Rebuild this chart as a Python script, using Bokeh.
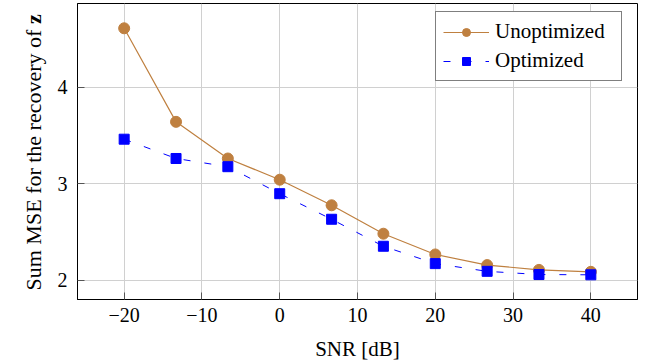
import math
from bokeh.plotting import figure
from bokeh.layouts import row
from bokeh.models import Range1d, FixedTicker
from bokeh.core.properties import value
from bokeh.embed import file_html
from bokeh.resources import INLINE

# ---- data ----
snr = [-20, -13.33, -6.67, 0, 6.67, 13.33, 20, 26.67, 33.33, 40]
unoptimized = [4.61, 3.64, 3.26, 3.04, 2.775, 2.48, 2.265, 2.155, 2.105, 2.085]
optimized = [3.46, 3.26, 3.175, 2.895, 2.63, 2.35, 2.17, 2.09, 2.057, 2.054]
x_ticks = [-20, -10, 0, 10, 20, 30, 40]
y_ticks = [2, 3, 4]
x_tick_labels = {-20: "\u221220", -10: "\u221210"}
series_names = ["Unoptimized", "Optimized"]
x_label = "SNR [dB]"
y_label_main = "Sum MSE for the recovery of"
y_label_bold = "z"

FONT = "Liberation Serif"
BROWN = "#bf8040"
BLUE = "#0000ff"
TICK_COLOR = "#555555"

W, H = 662, 364
LW = 52                       # width of the strip that carries the y title
TOP, BOTTOM = 3, 65           # frame margins (shared by both plots in the row)

# ---- narrow strip on the left carrying the rotated y-axis title ----
# its frame is aligned with the main frame; y here = pixels up from canvas bottom
left = figure(width=LW, height=H, output_backend="svg", toolbar_location=None,
              x_range=Range1d(0, LW), y_range=Range1d(BOTTOM, H - TOP),
              x_axis_type=None, y_axis_type=None,
              min_border_left=0, min_border_right=0,
              min_border_top=TOP, min_border_bottom=BOTTOM)
left.outline_line_color = None
left.grid.visible = False
left.background_fill_color = "white"
left.border_fill_color = "white"
title_size = 22
main_len = 11.859 * title_size          # Times-metric width of the plain part
space = 0.25 * title_size
left.text(x=[33], y=[74], text=[y_label_main], angle=math.pi / 2,
          text_align="left", text_baseline="alphabetic",
          text_font=value(FONT), text_font_size=f"{title_size}px", text_color="black")
left.text(x=[33], y=[74 + main_len + space], text=[y_label_bold], angle=math.pi / 2,
          text_align="left", text_baseline="alphabetic",
          text_font=value(FONT), text_font_size=f"{title_size}px",
          text_font_style="bold", text_color="black")

# ---- main chart ----
p = figure(width=W - LW, height=H, output_backend="svg", toolbar_location=None,
           x_range=Range1d(-26, 46), y_range=Range1d(1.798, 4.867),
           min_border_left=77 - LW, min_border_right=25, min_border_top=TOP,
           min_border_bottom=BOTTOM)
p.outline_line_color = "black"
p.outline_line_width = 1
p.background_fill_color = "white"
p.border_fill_color = "white"

for ax in (p.xaxis[0], p.yaxis[0]):
    ax.major_tick_in = 7
    ax.major_tick_out = 0
    ax.minor_tick_in = 0
    ax.minor_tick_out = 0
    ax.major_tick_line_color = TICK_COLOR
    ax.axis_line_color = "black"
    ax.major_label_text_font = FONT
    ax.major_label_text_font_size = "20px"
    ax.major_label_text_color = "black"

p.xaxis.ticker = FixedTicker(ticks=x_ticks)
p.yaxis.ticker = FixedTicker(ticks=y_ticks)
p.xaxis.major_label_overrides = x_tick_labels
p.xaxis.major_label_standoff = 8
p.yaxis.major_label_standoff = 10
p.xaxis.axis_label = x_label
p.xaxis.axis_label_text_font = FONT
p.xaxis.axis_label_text_font_size = "21px"
p.xaxis.axis_label_text_font_style = "normal"
p.xaxis.axis_label_text_color = "black"
p.xaxis.axis_label_standoff = 12

p.grid.grid_line_color = "#d0d0d0"
p.grid.grid_line_width = 1

p.line(snr, unoptimized, line_color=BROWN, line_width=1.2, legend_label=series_names[0])
p.scatter(snr, unoptimized, marker="circle", size=11, fill_color=BROWN,
          line_color=BROWN, legend_label=series_names[0])
p.line(snr, optimized, line_color=BLUE, line_width=1, line_dash="7 14",
       legend_label=series_names[1])
p.scatter(snr, optimized, marker="square", size=10, fill_color=BLUE,
          line_color=BLUE, legend_label=series_names[1])

lg = p.legend[0]
lg.location = (358, 218)
lg.margin = 0
lg.label_text_font = FONT
lg.label_text_font_size = "21px"
lg.label_text_color = "black"
lg.padding = 7
lg.spacing = 4
lg.glyph_width = 46
lg.label_standoff = 6
lg.label_width = 119
lg.border_line_color = "black"
lg.border_line_width = 1
lg.background_fill_color = "white"
lg.background_fill_alpha = 1

layout = row(left, p, spacing=0)
open("out.html", "w").write(file_html(layout, INLINE))
